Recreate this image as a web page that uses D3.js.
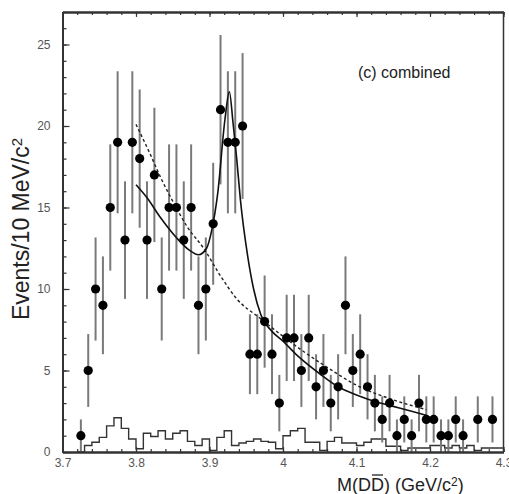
<!DOCTYPE html>
<html>
<head>
<meta charset="utf-8">
<script src="https://cdn.jsdelivr.net/npm/d3@7"></script>
<style>
  body { margin: 0; background: #fff; }
  text { font-family: "Liberation Sans", Arial, sans-serif; }
</style>
</head>
<body>
<svg id="dd-combined" width="509" height="494"></svg>
<script>
// bin centres (GeV/c^2) and events per 10 MeV
const mass = [3.725, 3.735, 3.745, 3.755, 3.765, 3.775, 3.785, 3.795, 3.805, 3.815,
  3.825, 3.835, 3.845, 3.855, 3.865, 3.875, 3.885, 3.895, 3.905, 3.915,
  3.925, 3.935, 3.945, 3.955, 3.965, 3.975, 3.985, 3.995, 4.005, 4.015,
  4.025, 4.035, 4.045, 4.055, 4.065, 4.075, 4.085, 4.095, 4.105, 4.115,
  4.125, 4.135, 4.145, 4.155, 4.165, 4.175, 4.185, 4.195, 4.205, 4.215,
  4.225, 4.235, 4.245, 4.255, 4.265, 4.275, 4.285];
const counts = [1, 5, 10, 9, 15, 19, 13, 19, 18, 13,
  17, 10, 15, 15, 13, 15, 9, 10, 14, 21,
  19, 19, 20, 6, 6, 8, 6, 3, 7, 7,
  5, 7, 4, 5, 3, 4, 9, 5, 6, 4,
  3, 2, 3, 1, 2, 1, 3, 2, 2, 1,
  1, 2, 1, 0, 2, 0, 2];

// sideband histogram: lower bin edges and contents
const bgEdges = [3.72, 3.73, 3.74, 3.75, 3.76, 3.77, 3.78, 3.79, 3.80, 3.81,
  3.82, 3.83, 3.84, 3.85, 3.86, 3.87, 3.88, 3.89, 3.90, 3.91,
  3.92, 3.93, 3.94, 3.95, 3.96, 3.97, 3.98, 3.99, 4.00, 4.01,
  4.02, 4.03, 4.04, 4.05, 4.06, 4.07, 4.08, 4.09, 4.10, 4.11,
  4.12, 4.13, 4.14, 4.15, 4.16, 4.17, 4.18, 4.19, 4.20, 4.21,
  4.22, 4.23, 4.24, 4.25, 4.26, 4.27, 4.28, 4.29, 4.30];
const bgCounts = [0, 0.4, 0.6, 0.9, 1.6, 2.1, 1.45, 0.8, 0.2, 1.15,
  0.95, 1.3, 0.8, 1.15, 1.3, 0.65, 0.4, 0.8, 0.1, 0.9,
  1.3, 0.4, 0.55, 0.65, 0.8, 0.65, 0.6, 0.2, 1.0, 1.3,
  1.45, 0.6, 0.6, 0.1, 0.65, 0.9, 0.55, 0.55, 0.4, 0.6,
  0.8, 0.8, 0.35, 0.35, 0.1, 0.25, 0.25, 0.25, 0.4, 0.4,
  0.25, 0.4, 0.25, 0.4, 0.1, 0.25, 0.25, 0.25, 0.25];

// fit with resonance (solid) and background only (dashed)
const fitMass = [3.800, 3.815, 3.833, 3.856, 3.872, 3.885, 3.896, 3.903, 3.911, 3.921,
  3.927, 3.932, 3.937, 3.942, 3.952, 3.960, 3.970, 3.985, 4.000, 4.020,
  4.050, 4.075, 4.100, 4.125, 4.150, 4.175, 4.195];
const fitValue = [16.4, 15.6, 14.4, 13.1, 12.4, 12.1, 12.5, 13.6, 15.8, 20.4,
  22.1, 20.2, 18.0, 15.5, 12.0, 10.0, 8.4, 7.4, 6.8, 5.9,
  4.8, 4.0, 3.5, 3.1, 2.8, 2.5, 2.25];
const bkgMass = [3.800, 3.818, 3.835, 3.851, 3.870, 3.892, 3.915, 3.937, 3.969, 4.000,
  4.030, 4.060, 4.100, 4.150, 4.195];
const bkgValue = [20.1, 18.4, 16.7, 15.3, 13.8, 12.5, 10.8, 9.4, 8.2, 7.1,
  6.1, 5.2, 4.1, 3.2, 2.6];

const xTicks = [3.7, 3.8, 3.9, 4.0, 4.1, 4.2, 4.3];
const xTickLabels = ["3.7", "3.8", "3.9", "4", "4.1", "4.2", "4.3"];
const yTicks = [0, 5, 10, 15, 20, 25];

let svg = d3.select("#dd-combined");

let x = d3.scaleLinear().domain([3.7, 4.3]).range([62.5, 503.5]);
let y = d3.scaleLinear().domain([0, 27]).range([452, 11.9]);

let plot = svg.append("g");

// sideband histogram
let bgPoints = bgEdges.map((e, i) => [e, bgCounts[i]]);
plot.append("path")
  .datum(bgPoints)
  .attr("d", d3.line().x(d => x(d[0])).y(d => y(d[1])).curve(d3.curveStepAfter))
  .attr("fill", "none")
  .attr("stroke", "#333")
  .attr("stroke-width", 1.4);

let pts = mass.map((m, i) => ({ m: m, n: counts[i] })).filter(d => d.n > 0);

// error bars
plot.selectAll("line.err")
  .data(pts)
  .enter()
  .append("line")
  .attr("class", "err")
  .attr("x1", d => x(d.m))
  .attr("x2", d => x(d.m))
  .attr("y1", d => y(Math.max(0, d.n - Math.sqrt(d.n))))
  .attr("y2", d => y(d.n + Math.sqrt(d.n)))
  .attr("stroke", "#7a7a7a")
  .attr("stroke-width", 2);

let line = d3.line().x(d => x(d[0])).y(d => y(d[1])).curve(d3.curveMonotoneX);

plot.append("path")
  .datum(bkgMass.map((m, i) => [m, bkgValue[i]]))
  .attr("d", line)
  .attr("fill", "none")
  .attr("stroke", "#222")
  .attr("stroke-width", 1.4)
  .attr("stroke-dasharray", "3,2.5");

plot.append("path")
  .datum(fitMass.map((m, i) => [m, fitValue[i]]))
  .attr("d", line)
  .attr("fill", "none")
  .attr("stroke", "#111")
  .attr("stroke-width", 1.6);

plot.selectAll("circle")
  .data(pts)
  .enter()
  .append("circle")
  .attr("cx", d => x(d.m))
  .attr("cy", d => y(d.n))
  .attr("r", 4.6)
  .attr("fill", "#000");

// axes, ticks pointing into the frame
function styleAxis(g) {
  g.select(".domain").attr("stroke", "#333").attr("stroke-width", 2);
  g.selectAll(".tick line").attr("stroke", "#333").attr("stroke-width", 1.2);
  g.selectAll(".tick text")
    .attr("fill", "#555")
    .style("font-size", "12px")
    .style("font-family", "Liberation Sans, Arial, sans-serif");
}

svg.append("g")
  .attr("transform", `translate(0,${y(0)})`)
  .call(d3.axisBottom(x).tickValues(x.ticks(30)).tickSize(-3).tickSizeOuter(0).tickFormat(""))
  .call(styleAxis);
svg.append("g")
  .attr("transform", `translate(0,${y(0)})`)
  .call(d3.axisBottom(x).tickValues(xTicks).tickSize(-5).tickSizeOuter(0).tickPadding(6)
    .tickFormat((d, i) => xTickLabels[i]))
  .call(styleAxis);

svg.append("g")
  .attr("transform", `translate(0,${y(27)})`)
  .call(d3.axisTop(x).tickValues(x.ticks(30)).tickSize(-3).tickSizeOuter(0).tickFormat(""))
  .call(styleAxis);
svg.append("g")
  .attr("transform", `translate(0,${y(27)})`)
  .call(d3.axisTop(x).tickValues(xTicks).tickSize(-5).tickSizeOuter(0).tickFormat(""))
  .call(styleAxis);

svg.append("g")
  .attr("transform", `translate(${x(3.7)},0)`)
  .call(d3.axisLeft(y).tickValues(y.ticks(27)).tickSize(-4).tickSizeOuter(0).tickFormat(""))
  .call(styleAxis);
svg.append("g")
  .attr("transform", `translate(${x(3.7)},0)`)
  .call(d3.axisLeft(y).tickValues(yTicks).tickSize(-7).tickSizeOuter(0).tickPadding(12))
  .call(styleAxis);

svg.append("line")
  .attr("x1", x(4.3)).attr("x2", x(4.3))
  .attr("y1", y(0)).attr("y2", y(27))
  .attr("stroke", "#333")
  .attr("stroke-width", 1.5);

// labels
svg.append("text")
  .attr("x", 358)
  .attr("y", 78)
  .attr("fill", "#222")
  .style("font-size", "16px")
  .text("(c) combined");

let yl = svg.append("text")
  .attr("transform", "translate(29,229) rotate(-90)")
  .attr("text-anchor", "middle")
  .attr("fill", "#222")
  .style("font-size", "23px");
yl.append("tspan").text("Events/10 MeV/c");
yl.append("tspan").attr("dy", "-0.45em").style("font-size", "15px").text("2");

let xl = svg.append("text")
  .attr("x", 337)
  .attr("y", 491)
  .attr("fill", "#222")
  .style("font-size", "18px");
xl.append("tspan").text("M(DD) (GeV/c");
xl.append("tspan").attr("dy", "-0.45em").style("font-size", "12px").text("2");
xl.append("tspan").attr("dy", "0.3em").text(")");

// overbar on the second D
let node = xl.node();
let p0 = node.getStartPositionOfChar(3);
let p1 = node.getEndPositionOfChar(3);
svg.append("line")
  .attr("x1", p0.x + 1).attr("x2", p1.x - 1)
  .attr("y1", 475).attr("y2", 475)
  .attr("stroke", "#222")
  .attr("stroke-width", 1.3);
</script>
</body>
</html>
